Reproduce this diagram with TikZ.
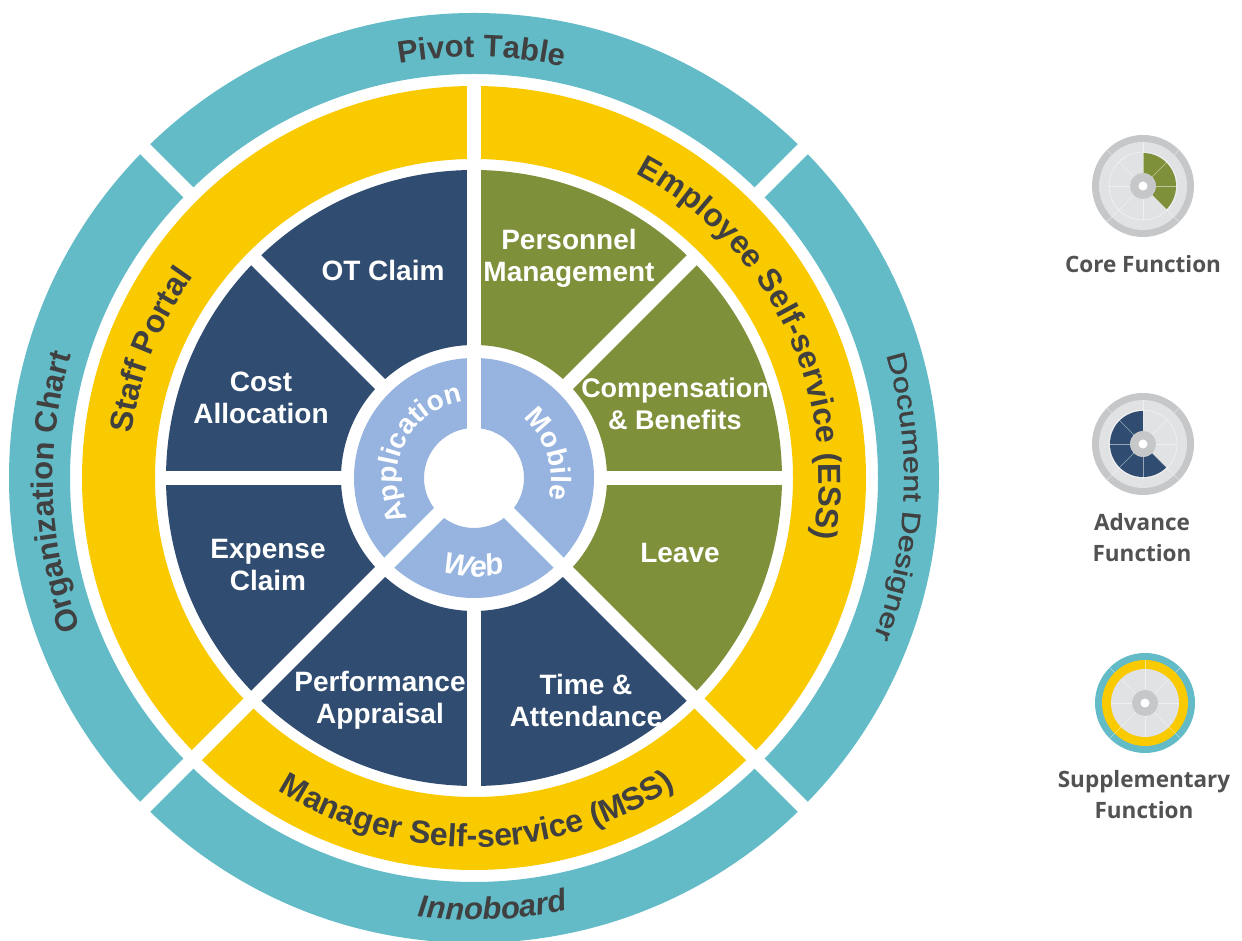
\documentclass[tikz,border=0pt]{standalone}
\usepackage{fontspec}
\setmainfont{Liberation Sans}
\newfontfamily\legendfamily{Open Sans}
\newfontfamily\widefamily[FakeStretch=1.25,FakeBold=1.3]{Liberation Sans}
\usetikzlibrary{decorations.text}
\definecolor{ringteal}{HTML}{62BBC7}
\definecolor{ringyellow}{HTML}{FACA00}
\definecolor{corenavy}{HTML}{304D71}
\definecolor{coregreen}{HTML}{7F903A}
\definecolor{applblue}{HTML}{96B4DF}
\definecolor{labelgray}{HTML}{404040}
\definecolor{legendgray}{HTML}{525252}
\definecolor{icongray}{HTML}{C6C7C9}
\definecolor{icondisc}{HTML}{E1E2E4}
% colour, start angle, end angle, inner radius, outer radius
\newcommand\ringsector[5]{\fill[#1] (#2:#5) arc[start angle=#2, end angle=#3, radius=#5] -- (#3:#4) arc[start angle=#3, end angle=#2, radius=#4] -- cycle;}
\newcommand\ringfont{\fontsize{31}{31}\selectfont\bfseries}
\newcommand\docfont{\widefamily\fontsize{26}{26}\selectfont}
\newcommand\bandfont{\fontsize{32}{32}\selectfont\bfseries}
\newcommand\innerfont{\fontsize{28}{28}\selectfont\bfseries}
\begin{document}
\begin{tikzpicture}[x=1pt,y=1pt,
  gapline/.style={white, line width=14pt},
  sectorlabel/.style={text=white, font=\fontsize{28}{32}\selectfont\bfseries, align=center, inner sep=0pt},
  legendlabel/.style={text=legendgray, font=\legendfamily\fontsize{22.5}{31}\selectfont\bfseries, align=center, inner sep=0pt},
  spoke/.style={white, line width=0.6pt, opacity=0.5},
  curvedgray/.style={decorate, decoration={text along path, text align=center, text color=labelgray, text={#1}}},
  curvedwhite/.style={decorate, decoration={text along path, text align=center, text color=white, text={#1}}}]
\useasboundingbox (0,0) rectangle (1242,941);
\fill[white] (0,0) rectangle (1242,941);
\begin{scope}[shift={(474,463)}]
  % rings
  \fill[ringteal, even odd rule] (0,0) circle[radius=465] (0,0) circle[radius=404];
  \fill[ringyellow, even odd rule] (0,0) circle[radius=392] (0,0) circle[radius=319];
  \ringsector{corenavy}{90}{315}{133}{308}
  \ringsector{coregreen}{-45}{90}{133}{308}
  \fill[applblue, even odd rule] (0,0) circle[radius=120] (0,0) circle[radius=50];
  % gaps
  \foreach \a in {0,45,...,315} \draw[gapline] (\a:125) -- (\a:314);
  \foreach \a in {90,225,315} \draw[gapline] (\a:312) -- (\a:398);
  \foreach \a in {45,135,225,315} \draw[gapline] (\a:398) -- (\a:470);
  \foreach \a in {90,225,315} \draw[gapline] (\a:44) -- (\a:126);
  % outer ring labels
  \path[curvedgray={|\ringfont|Pivot Table}] (119:421) arc[start angle=119, end angle=59, radius=421];
  \path[curvedgray={|\ringfont|Organization Chart}] (224:421) arc[start angle=224, end angle=140, radius=421];
  \path[curvedgray={|\docfont|Document Designer}] (40:430) arc[start angle=40, end angle=-45, radius=430];
  \path[curvedgray={|\ringfont\itshape|Innoboard}] (240:442) arc[start angle=240, end angle=305, radius=442];
  % yellow ring labels
  \path[curvedgray={|\bandfont|Staff Portal}] (200:345) arc[start angle=200, end angle=117, radius=345];
  \path[curvedgray={|\bandfont|Employee Self-service (ESS)}] (77:345) arc[start angle=77, end angle=-25, radius=345];
  \path[curvedgray={|\bandfont|Manager Self-service (MSS)}] (224:369) arc[start angle=224, end angle=317, radius=369];
  % inner ring labels
  \path[curvedwhite={|\innerfont|Application}] (218:77) arc[start angle=218, end angle=92, radius=77];
  \path[curvedwhite={|\innerfont|Mobile}] (70:77) arc[start angle=70, end angle=-35, radius=77];
  \path[curvedwhite={|\fontsize{30}{30}\selectfont\bfseries\itshape|Web}] (235:99) arc[start angle=235, end angle=305, radius=99];
\end{scope}
% sector labels
\node[sectorlabel] (otclaim) at (383,670) {OT Claim};
\node[sectorlabel] (personnel) at (569,683) {Personnel\\Management};
\node[sectorlabel] (costalloc) at (261,543) {Cost\\Allocation};
\node[sectorlabel, font=\fontsize{27}{32}\selectfont\bfseries] (compben) at (675,537) {Compensation\\\& Benefits};
\node[sectorlabel] (expense) at (268,376) {Expense\\Claim};
\node[sectorlabel] (leave) at (680,388) {Leave};
\node[sectorlabel] (perform) at (380,241) {Performance\\Appraisal};
\node[sectorlabel] (timeatt) at (586,241) {Time \&\\Attendance};
% legend: core function
\begin{scope}[shift={(1143,755)}]
  \fill[icongray] (0,0) circle[radius=51];
  \fill[icondisc] (0,0) circle[radius=44];
  \draw[white, line width=0.6pt, opacity=0.6] (0,0) circle[radius=34];
  \ringsector{coregreen}{-45}{90}{13}{33}
  \foreach \a in {0,45,...,315} \draw[spoke] (\a:13) -- (\a:34);
  \foreach \a in {90,225,315} \draw[spoke] (\a:34) -- (\a:44);
  \foreach \a in {45,135,225,315} \draw[spoke] (\a:44) -- (\a:51);
  \fill[icongray] (0,0) circle[radius=13];
  \fill[white] (0,0) circle[radius=4.5];
\end{scope}
% legend: advance function
\begin{scope}[shift={(1143,497)}]
  \fill[icongray] (0,0) circle[radius=51];
  \fill[icondisc] (0,0) circle[radius=44];
  \draw[white, line width=0.6pt, opacity=0.6] (0,0) circle[radius=34];
  \ringsector{corenavy}{90}{315}{13}{33}
  \foreach \a in {0,45,...,315} \draw[spoke] (\a:13) -- (\a:34);
  \foreach \a in {90,225,315} \draw[spoke] (\a:34) -- (\a:44);
  \foreach \a in {45,135,225,315} \draw[spoke] (\a:44) -- (\a:51);
  \fill[icongray] (0,0) circle[radius=13];
  \fill[white] (0,0) circle[radius=4.5];
\end{scope}
% legend: supplementary function
\begin{scope}[shift={(1145,238)}]
  \fill[ringteal] (0,0) circle[radius=50];
  \fill[ringyellow] (0,0) circle[radius=43];
  \fill[icondisc] (0,0) circle[radius=34];
  \foreach \a in {0,45,...,315} \draw[spoke] (\a:13) -- (\a:34);
  \foreach \a in {90,225,315} \draw[spoke] (\a:34) -- (\a:43);
  \foreach \a in {45,135,225,315} \draw[spoke] (\a:43) -- (\a:50);
  \fill[icongray] (0,0) circle[radius=13];
  \fill[white] (0,0) circle[radius=4.5];
\end{scope}
\node[legendlabel] (corelbl) at (1143,677) {Core Function};
\node[legendlabel] (advlbl) at (1142,403.5) {Advance\\Function};
\node[legendlabel] (supplbl) at (1144,146.5) {Supplementary\\Function};
\end{tikzpicture}
\end{document}
